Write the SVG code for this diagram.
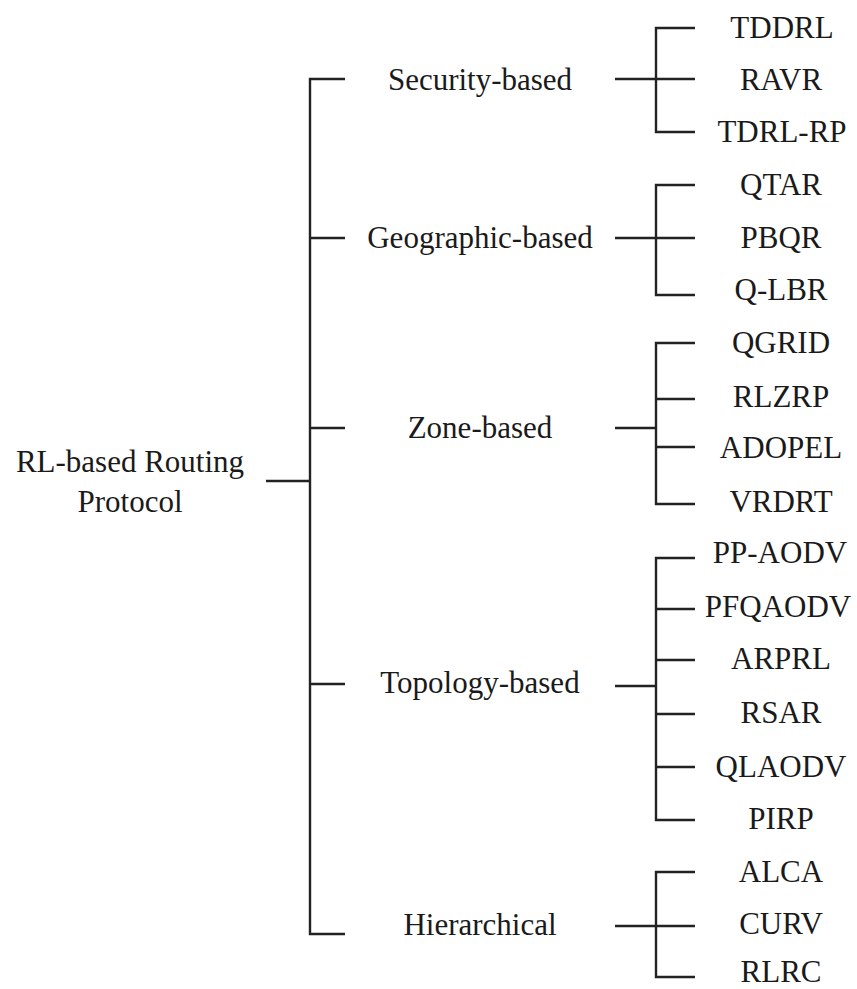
<svg xmlns="http://www.w3.org/2000/svg" width="857" height="989" viewBox="0 0 857 989">
<style>
text{font-family:"Liberation Serif","Times New Roman",serif;font-size:31px;fill:#1a1a1a;text-anchor:middle}
.c line,.c path{stroke:#222;stroke-width:2.4;fill:none}
</style>
<rect width="857" height="989" fill="#fff"/>
<g class="c" id="connectors">
<line x1="266" y1="481" x2="310" y2="481"/>
<path d="M345 79H310V934H345"/>
<line x1="310" y1="238" x2="345" y2="238"/>
<line x1="310" y1="428" x2="345" y2="428"/>
<line x1="310" y1="684" x2="345" y2="684"/>
<line x1="615" y1="79" x2="656" y2="79"/>
<path d="M695 28H656V132H695"/>
<line x1="656" y1="79" x2="695" y2="79"/>
<line x1="615" y1="238" x2="656" y2="238"/>
<path d="M695 185H656V295H695"/>
<line x1="656" y1="238" x2="695" y2="238"/>
<line x1="615" y1="428" x2="656" y2="428"/>
<path d="M695 343H656V504H695"/>
<line x1="656" y1="399" x2="695" y2="399"/>
<line x1="656" y1="447" x2="695" y2="447"/>
<line x1="615" y1="686" x2="656" y2="686"/>
<path d="M695 558H656V820H695"/>
<line x1="656" y1="609" x2="695" y2="609"/>
<line x1="656" y1="660" x2="695" y2="660"/>
<line x1="656" y1="714" x2="695" y2="714"/>
<line x1="656" y1="767" x2="695" y2="767"/>
<line x1="615" y1="926" x2="656" y2="926"/>
<path d="M695 872H656V977H695"/>
<line x1="656" y1="926" x2="695" y2="926"/>
</g>
<g id="root"><text x="130" y="472">RL-based Routing</text><text x="130" y="512">Protocol</text></g>
<g id="security"><text x="480" y="90">Security-based</text></g>
<g id="geographic"><text x="480" y="248">Geographic-based</text></g>
<g id="zone"><text x="480" y="438">Zone-based</text></g>
<g id="topology"><text x="480" y="693">Topology-based</text></g>
<g id="hierarchical"><text x="480" y="935">Hierarchical</text></g>
<g id="TDDRL"><text x="782" y="38">TDDRL</text></g>
<g id="RAVR"><text x="781" y="90">RAVR</text></g>
<g id="TDRL-RP"><text x="782" y="142">TDRL-RP</text></g>
<g id="QTAR"><text x="781" y="195">QTAR</text></g>
<g id="PBQR"><text x="781" y="248">PBQR</text></g>
<g id="Q-LBR"><text x="781" y="300">Q-LBR</text></g>
<g id="QGRID"><text x="781" y="353">QGRID</text></g>
<g id="RLZRP"><text x="781" y="407">RLZRP</text></g>
<g id="ADOPEL"><text x="781" y="458">ADOPEL</text></g>
<g id="VRDRT"><text x="781" y="512">VRDRT</text></g>
<g id="PP-AODV"><text x="780" y="563">PP-AODV</text></g>
<g id="PFQAODV"><text x="778" y="617">PFQAODV</text></g>
<g id="ARPRL"><text x="781" y="669">ARPRL</text></g>
<g id="RSAR"><text x="781" y="723">RSAR</text></g>
<g id="QLAODV"><text x="781" y="777">QLAODV</text></g>
<g id="PIRP"><text x="781" y="829">PIRP</text></g>
<g id="ALCA"><text x="781" y="882">ALCA</text></g>
<g id="CURV"><text x="781" y="934">CURV</text></g>
<g id="RLRC"><text x="781" y="982">RLRC</text></g>
</svg>
